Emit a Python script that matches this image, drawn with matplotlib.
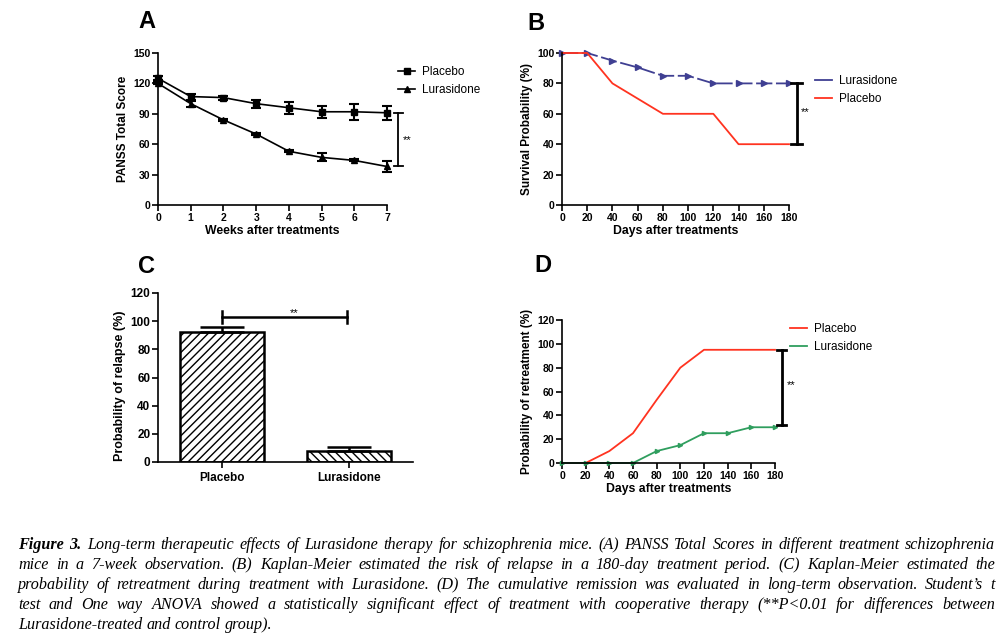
import matplotlib
matplotlib.use("Agg")
import matplotlib.pyplot as plt
import numpy as np

W, H = 1005, 644

# ---- data ----
weeks = [0, 1, 2, 3, 4, 5, 6, 7]
panss_placebo = [125, 107, 106, 100, 96, 92, 92, 91]
panss_placebo_err = [2, 3, 2, 4, 6, 6, 8, 7]
panss_luras = [120, 100, 84, 70, 53, 47, 44, 38]
panss_luras_err = [1, 3, 1, 1, 1, 4, 1, 5]

days = [0, 20, 40, 60, 80, 100, 120, 140, 160, 180]
surv_luras = [100, 100, 95, 90.5, 85, 85, 80, 80, 80, 80]
surv_placebo = [100, 100, 80, 70, 60, 60, 60, 40, 40, 40]

groups = ["Placebo", "Lurasidone"]
relapse = [92.5, 7.5]
relapse_err = [3.5, 3.5]

retreat_placebo = [0, 0, 10, 25, 53, 80, 95, 95, 95, 95]
retreat_luras = [0, 0, 0, 0, 10, 15, 25, 25, 30, 30]

caption_lines = [
    "Figure 3. Long-term therapeutic effects of Lurasidone therapy for schizophrenia mice. (A) PANSS Total Scores in different treatment schizophrenia",
    "mice in a 7-week observation. (B) Kaplan-Meier estimated the risk of relapse in a 180-day treatment period. (C) Kaplan-Meier estimated the",
    "probability of retreatment during treatment with Lurasidone. (D) The cumulative remission was evaluated in long-term observation. Student\u2019s t",
    "test and One way ANOVA showed a statistically significant effect of treatment with cooperative therapy (**P<0.01 for differences between",
    "Lurasidone-treated and control group).",
]

RED = "#ff3320"
NAVY = "#3f3f92"
GREEN = "#2f9e5e"

plt.rcParams["font.family"] = ["Liberation Sans", "DejaVu Sans"]
plt.rcParams["hatch.linewidth"] = 1.0

fig = plt.figure(figsize=(W / 100, H / 100), dpi=100)


def ax_at(x0, y0, x1, y1):
    ax = fig.add_axes([x0 / W, 1 - y1 / H, (x1 - x0) / W, (y1 - y0) / H])
    for s in ["top", "right"]:
        ax.spines[s].set_visible(False)
    for s in ["left", "bottom"]:
        ax.spines[s].set_linewidth(1.2)
    ax.tick_params(direction="out", length=4, width=1.2, labelsize=7.5, pad=1.5)
    ax.patch.set_alpha(0)
    return ax


def bold_ticks(ax):
    for lab in ax.get_xticklabels() + ax.get_yticklabels():
        lab.set_fontweight("bold")


def px_to_fig(x, y):
    return x / W, 1 - y / H


def bracket(ax, x, y0, y1, hw, lw=1.5):
    ax.plot([x, x], [y0, y1], color="black", lw=lw, clip_on=False)
    ax.plot([x - hw, x + hw], [y0, y0], color="black", lw=lw, clip_on=False)
    ax.plot([x - hw, x + hw], [y1, y1], color="black", lw=lw, clip_on=False)


def put_legend(ax, handles, labels, x, y):
    ax.legend(handles, labels, loc="center left", bbox_to_anchor=px_to_fig(x, y),
              bbox_transform=fig.transFigure, frameon=False, fontsize=8.5,
              handlelength=1.45, labelspacing=0.45, handletextpad=0.55, borderpad=0,
              borderaxespad=0)


# ---- A ----
axA = ax_at(158, 53, 387, 205)
axA.errorbar(weeks, panss_placebo, yerr=panss_placebo_err, color="black", marker="s",
             markersize=5, lw=1.2, capsize=3.5, elinewidth=1.5, capthick=1.5, clip_on=False)
axA.errorbar(weeks, panss_luras, yerr=panss_luras_err, color="black", marker="^",
             markersize=5, lw=1.2, capsize=3.5, elinewidth=1.5, capthick=1.5, clip_on=False)
axA.set_xlim(0, 7)
axA.set_ylim(0, 150)
axA.set_xticks(weeks)
axA.set_yticks([0, 30, 60, 90, 120, 150])
axA.set_xlabel("Weeks after treatments", fontsize=8.8, fontweight="bold", labelpad=2)
axA.set_ylabel("PANSS Total Score", fontsize=8.5, fontweight="bold", labelpad=3)
bold_ticks(axA)
bracket(axA, 7.34, 38, 91, 0.14, lw=1.3)
axA.text(7.47, 64, "**", fontsize=8, ha="left", va="center")
hA = [plt.Line2D([], [], color="black", lw=1.2, marker="s", markersize=4.5),
      plt.Line2D([], [], color="black", lw=1.2, marker="^", markersize=4.5)]
put_legend(axA, hA, ["Placebo", "Lurasidone"], 398, 81)
fig.text(*px_to_fig(147, 22), "A", fontsize=17, fontweight="bold", ha="center", va="center")

# ---- B ----
axB = ax_at(562, 53, 789, 205)
axB.plot(days, surv_luras, color=NAVY, lw=1.3, marker=">", markersize=4,
         dashes=(9, 2), clip_on=False)
axB.plot(days, surv_placebo, color=RED, lw=1.3, clip_on=False)
axB.set_xlim(0, 180)
axB.set_ylim(0, 100)
axB.set_xticks(days)
axB.set_yticks([0, 20, 40, 60, 80, 100])
axB.set_xlabel("Days after treatments", fontsize=8.8, fontweight="bold", labelpad=2)
axB.set_ylabel("Survival Probability (%)", fontsize=8.5, fontweight="bold", labelpad=3)
bold_ticks(axB)
bracket(axB, 186, 40, 80, 4.5, lw=2)
axB.text(189.5, 61, "**", fontsize=8, ha="left", va="center")
hB = [plt.Line2D([], [], color=NAVY, lw=1.3), plt.Line2D([], [], color=RED, lw=1.3)]
put_legend(axB, hB, ["Lurasidone", "Placebo"], 815, 90)
fig.text(*px_to_fig(536, 24), "B", fontsize=17, fontweight="bold", ha="center", va="center")

# ---- C ----
axC = ax_at(158, 293, 413, 462)
xs = np.arange(len(groups))
bars = axC.bar(xs, relapse, width=0.66, color="white", edgecolor="black", linewidth=1.8)
bars[0].set_hatch("////")
bars[1].set_hatch("\\\\\\\\")
axC.errorbar(xs, relapse, yerr=[[0, 0], relapse_err], fmt="none", ecolor="black",
             elinewidth=1.8, capsize=16, capthick=1.8)
axC.set_xlim(-0.5, 1.5)
axC.set_ylim(0, 120)
axC.set_xticks(xs)
axC.set_xticklabels(groups)
axC.set_yticks([0, 20, 40, 60, 80, 100, 120])
axC.tick_params(axis="both", labelsize=8.5)
axC.tick_params(axis="x", pad=3)
axC.set_ylabel("Probability of relapse (%)", fontsize=9, fontweight="bold", labelpad=3)
axC.yaxis.set_label_coords(-0.125, 0.45)
bold_ticks(axC)
axC.plot([0, 0.98], [102.7, 102.7], color="black", lw=1.8)
axC.plot([0, 0], [99, 107.5], color="black", lw=1.8)
axC.plot([0.98, 0.98], [99, 107.5], color="black", lw=1.8)
axC.text(0.57, 106, "**", fontsize=8, ha="center", va="center")
fig.text(*px_to_fig(146, 266), "C", fontsize=17, fontweight="bold", ha="center", va="center")

# ---- D ----
axD = ax_at(562, 320, 775, 463)
axD.plot(days, retreat_placebo, color=RED, lw=1.3, clip_on=False)
axD.plot(days, retreat_luras, color=GREEN, lw=1.3, marker=">", markersize=3, clip_on=False)
axD.set_xlim(0, 180)
axD.set_ylim(0, 120)
axD.set_xticks(days)
axD.set_yticks([0, 20, 40, 60, 80, 100, 120])
axD.set_xlabel("Days after treatments", fontsize=8.8, fontweight="bold", labelpad=2)
axD.set_ylabel("Probability of retreatment (%)", fontsize=8.5, fontweight="bold", labelpad=3)
bold_ticks(axD)
bracket(axD, 185.7, 32, 95, 4, lw=2)
axD.text(190, 65, "**", fontsize=8, ha="left", va="center")
hD = [plt.Line2D([], [], color=RED, lw=1.3), plt.Line2D([], [], color=GREEN, lw=1.3)]
put_legend(axD, hD, ["Placebo", "Lurasidone"], 790, 338)
fig.text(*px_to_fig(543, 265), "D", fontsize=17, fontweight="bold", ha="center", va="center")

# ---- caption (justified) ----
renderer = fig.canvas.get_renderer()
cap_left, cap_right = 18, 995
line_y = [545, 565, 585, 605, 625]
for i, line in enumerate(caption_lines):
    words = line.split(" ")
    texts = []
    for j, w in enumerate(words):
        weight = "bold" if (i == 0 and j < 2) else "normal"
        texts.append(fig.text(0, 0, w, ha="left", va="center", family="Liberation Serif",
                              style="italic", fontsize=11.6, fontweight=weight))
    widths = [t.get_window_extent(renderer).width for t in texts]
    if i < len(caption_lines) - 1:
        gap = (cap_right - cap_left - sum(widths)) / (len(words) - 1)
    else:
        gap = 4
    x = cap_left
    for t, w in zip(texts, widths):
        t.set_position(px_to_fig(x, line_y[i]))
        x += w + gap

fig.savefig("out.png", dpi=100)
